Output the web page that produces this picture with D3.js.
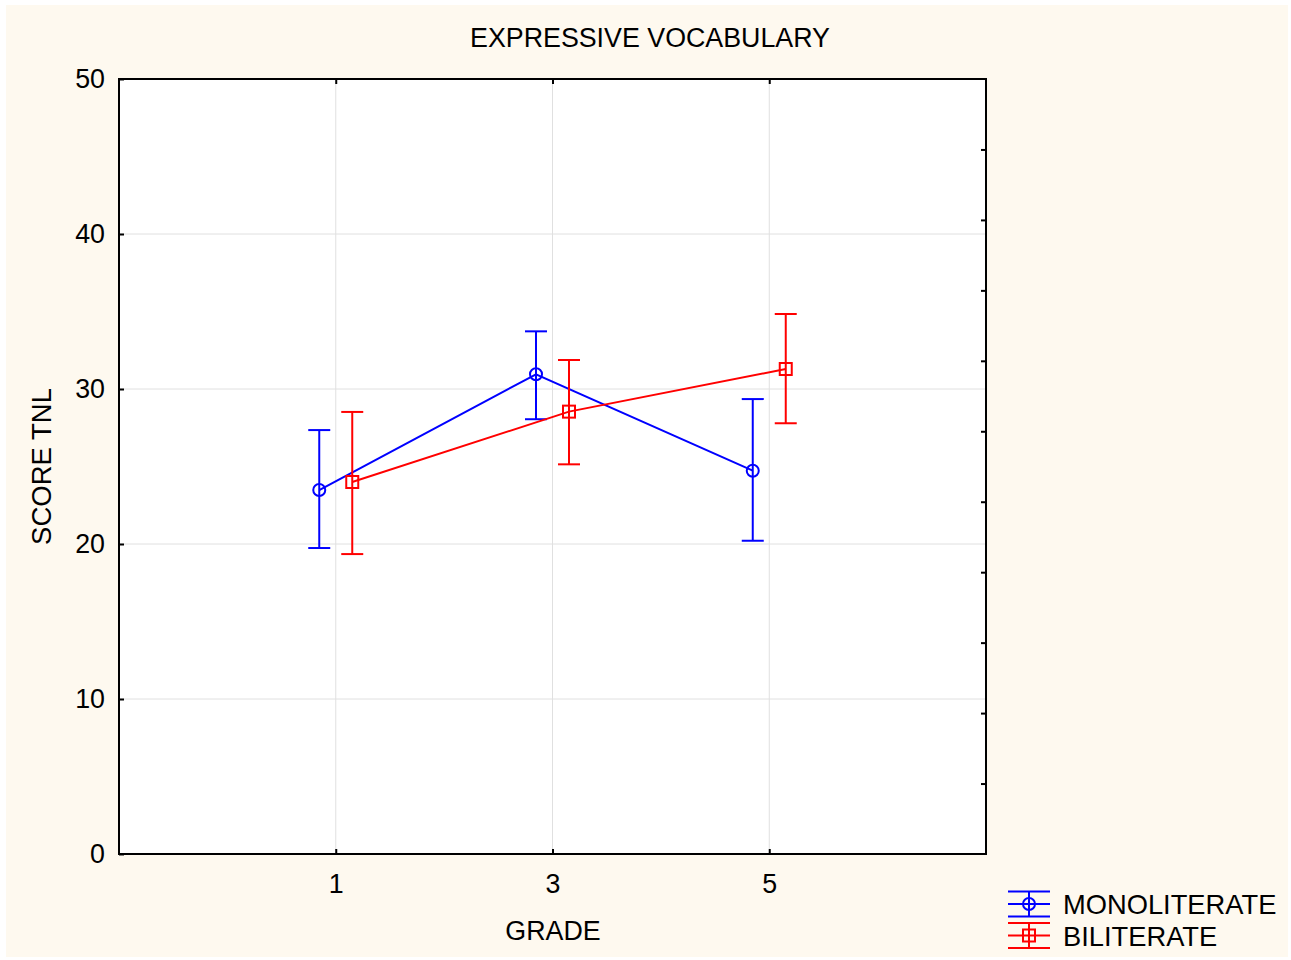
<!DOCTYPE html>
<html>
<head>
<meta charset="utf-8">
<script src="https://cdn.jsdelivr.net/npm/d3@7"></script>
<style>
  html, body { margin: 0; padding: 0; background: #ffffff; }
  svg { display: block; }
  text { font-family: "Liberation Sans", Arial, sans-serif; fill: #000; }
</style>
</head>
<body>
<script>
// Grades on the x axis
const grades = [1, 3, 5];
const yTicks = [0, 10, 20, 30, 40, 50];

// Mean score and 95% interval bounds per grade
const monoMean  = [23.48, 30.95, 24.73];
const monoLower = [19.74, 28.05, 20.21];
const monoUpper = [27.35, 33.72, 29.35];

const biMean  = [24.0, 28.54, 31.29];
const biLower = [19.35, 25.14, 27.79];
const biUpper = [28.52, 31.87, 34.84];

const seriesNames = ["MONOLITERATE", "BILITERATE"];
const seriesColors = ["#0000ff", "#ff0000"];

const W = 1291, H = 960;
const plot = { left: 119, right: 986, top: 79, bottom: 854 };
const fontSize = 26.8;

const svg = d3.select("body").append("svg").attr("width", W).attr("height", H);

// page background
svg.append("rect").attr("x", 6).attr("y", 5).attr("width", 1282).attr("height", 952)
  .attr("fill", "#fef9ef");

// plot area
svg.append("rect")
  .attr("x", plot.left).attr("y", plot.top)
  .attr("width", plot.right - plot.left).attr("height", plot.bottom - plot.top)
  .attr("fill", "#ffffff");

// category positions: grade index 0..2 sits at 1..3 on a 0..4 range
const x = d3.scaleLinear().domain([0, 4]).range([plot.left, plot.right]);
const y = d3.scaleLinear().domain([0, 50]).range([plot.bottom, plot.top]);
const gx = i => x(i + 1);

// grid lines
const grid = svg.append("g").attr("stroke", "#e0e0e0").attr("stroke-width", 1);
grid.selectAll("line.h").data(yTicks.filter(v => v > 0 && v < 50)).join("line")
  .attr("class", "h")
  .attr("x1", plot.left).attr("x2", plot.right)
  .attr("y1", d => y(d)).attr("y2", d => y(d));
grid.selectAll("line.v").data(grades).join("line")
  .attr("class", "v")
  .attr("x1", (d, i) => gx(i)).attr("x2", (d, i) => gx(i))
  .attr("y1", plot.top).attr("y2", plot.bottom);

// axes with inward ticks
const axisLeftG = svg.append("g").attr("transform", `translate(${plot.left},0)`)
  .call(d3.axisLeft(y).tickValues(yTicks).tickSize(-5).tickPadding(14).tickFormat(d3.format("d")));
const axisBottomG = svg.append("g").attr("transform", `translate(0,${plot.bottom})`)
  .call(d3.axisBottom(x).tickValues([1, 2, 3]).tickSize(-5).tickPadding(20)
    .tickFormat(d => grades[d - 1]));
const axisTopG = svg.append("g").attr("transform", `translate(0,${plot.top})`)
  .call(d3.axisTop(x).tickValues([1, 2, 3]).tickSize(-5).tickFormat(""));
const rightTicks = d3.range(1, 11).map(k => 50 * k / 11);
const axisRightG = svg.append("g").attr("transform", `translate(${plot.right},0)`)
  .call(d3.axisRight(y).tickValues(rightTicks).tickSize(-5).tickFormat(""));

[axisLeftG, axisBottomG, axisTopG, axisRightG].forEach(g => {
  g.select(".domain").remove();
  g.selectAll(".tick line").attr("stroke", "#000").attr("stroke-width", 2);
  g.selectAll(".tick text").attr("font-size", fontSize)
    .attr("font-family", "Liberation Sans, Arial, sans-serif").attr("fill", "#000");
});

// frame
svg.append("rect")
  .attr("x", plot.left).attr("y", plot.top)
  .attr("width", plot.right - plot.left).attr("height", plot.bottom - plot.top)
  .attr("fill", "none").attr("stroke", "#000").attr("stroke-width", 2);

// series
const series = [
  { mean: monoMean, lo: monoLower, hi: monoUpper, off: -16.5, marker: "circle" },
  { mean: biMean, lo: biLower, hi: biUpper, off: 16.5, marker: "square" }
];
const capHalf = 11;

series.forEach((s, si) => {
  const color = seriesColors[si];
  const g = svg.append("g").attr("stroke", color).attr("stroke-width", 2).attr("fill", "none");
  const px = i => gx(i) + s.off;

  g.append("path")
    .attr("d", d3.line().x((d, i) => px(i)).y(d => y(d))(s.mean));

  grades.forEach((gr, i) => {
    g.append("line").attr("x1", px(i)).attr("x2", px(i))
      .attr("y1", y(s.lo[i])).attr("y2", y(s.hi[i]));
    g.append("line").attr("x1", px(i) - capHalf).attr("x2", px(i) + capHalf)
      .attr("y1", y(s.hi[i])).attr("y2", y(s.hi[i]));
    g.append("line").attr("x1", px(i) - capHalf).attr("x2", px(i) + capHalf)
      .attr("y1", y(s.lo[i])).attr("y2", y(s.lo[i]));
    if (s.marker === "circle") {
      g.append("circle").attr("cx", px(i)).attr("cy", y(s.mean[i])).attr("r", 6);
    } else {
      g.append("rect").attr("x", px(i) - 6).attr("y", y(s.mean[i]) - 6)
        .attr("width", 12).attr("height", 12);
    }
  });
});

// titles
svg.append("text").attr("x", 650).attr("y", 47).attr("text-anchor", "middle")
  .attr("font-size", fontSize).text("EXPRESSIVE VOCABULARY");
svg.append("text").attr("x", 553).attr("y", 940)
  .attr("text-anchor", "middle").attr("font-size", fontSize).text("GRADE");
svg.append("text")
  .attr("transform", `translate(51,${(plot.top + plot.bottom) / 2}) rotate(-90)`)
  .attr("text-anchor", "middle").attr("font-size", fontSize + 0.7).text("SCORE TNL");

// legend
const legend = svg.append("g");
seriesNames.forEach((name, si) => {
  const cy = 904 + si * 31.5;
  const cx = 1029;
  const color = seriesColors[si];
  const lg = legend.append("g").attr("stroke", color).attr("stroke-width", 2).attr("fill", "none");
  [-12.5, 0, 12.5].forEach(dy => {
    lg.append("line").attr("x1", 1008).attr("x2", 1050).attr("y1", cy + dy).attr("y2", cy + dy);
  });
  lg.append("line").attr("x1", cx).attr("x2", cx).attr("y1", cy - 12.5).attr("y2", cy + 12.5);
  if (si === 0) {
    lg.append("circle").attr("cx", cx).attr("cy", cy).attr("r", 6);
  } else {
    lg.append("rect").attr("x", cx - 6).attr("y", cy - 6).attr("width", 12).attr("height", 12);
  }
  legend.append("text").attr("x", 1063).attr("y", cy + 10).attr("font-size", 27.3).text(name);
});
</script>
</body>
</html>
